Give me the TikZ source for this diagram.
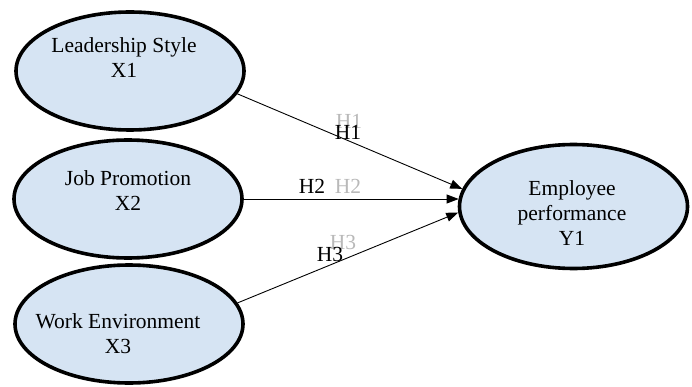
\documentclass[tikz,border=0pt]{standalone}
\usepackage{fontspec}
\setmainfont{Liberation Serif}
\newfontfamily\timesf{Liberation Serif}
\usetikzlibrary{shapes.geometric,arrows.meta}
\definecolor{ellfill}{RGB}{214,228,243}
\definecolor{ghost}{RGB}{185,185,185}
\tikzset{
  construct/.style={ellipse, draw=black, line width=3.6pt, fill=ellfill,
    minimum width=228pt, minimum height=118pt, inner sep=0pt},
  ctext/.style={align=center, font=\timesf\fontsize{21.5}{25}\selectfont, inner sep=0pt},
  hyp/.style={font=\timesf\fontsize{21.5}{25}\selectfont, inner sep=0pt},
  hypghost/.style={hyp, text=ghost},
  conn/.style={draw=black, line width=0.9pt, -{Triangle[length=12pt,width=9pt]}}
}
\begin{document}
\begin{tikzpicture}[x=1pt,y=-1pt]
\useasboundingbox (0,0) rectangle (692,387);
% constructs
\node[construct] (x1) at (130,71) {};
\node[construct] (x2) at (128,199) {};
\node[construct] (x3) at (129,324) {};
\node[construct, minimum height=124pt] (y1) at (573.5,206.5) {};
% texts
\node[ctext] (x1t) at (124,58) {Leadership Style\\X1};
\node[ctext] (x2t) at (128,191) {Job Promotion\\X2};
\node[ctext] (x3t) at (118,334) {Work Environment\\X3};
\node[ctext] (y1t) at (572,213) {Employee\\performance\\Y1};
% connectors
\draw[conn] (x1.-12) -- (y1.171);
\draw[conn] (x2.east) -- (x2.east -| y1.176);
\draw[conn] (x3.11) -- (y1.-177);
% hypothesis labels
\node[hypghost] (h1g) at (349,121) {H1};
\node[hyp] (h1) at (348,132) {H1};
\node[hyp] (h2) at (312,186) {H2};
\node[hypghost] (h2g) at (348,186) {H2};
\node[hypghost] (h3g) at (343,242) {H3};
\node[hyp] (h3) at (330,254) {H3};
\end{tikzpicture}
\end{document}
